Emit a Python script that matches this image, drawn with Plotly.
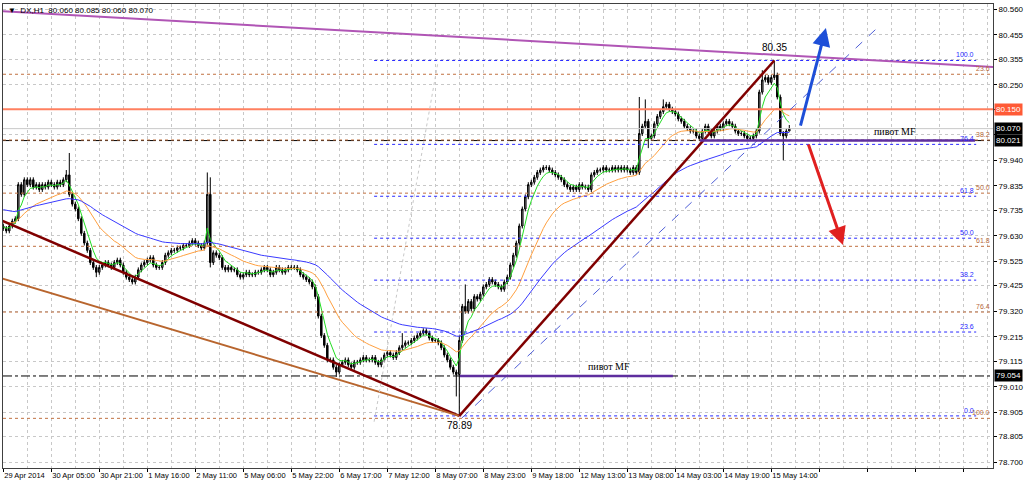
import plotly.graph_objects as go

# ---------------- data ----------------
close = [
    79.66, 79.65, 79.67, 79.69, 79.70, 79.84, 79.80, 79.86, 79.84, 79.86,
    79.83, 79.84, 79.82, 79.84, 79.83, 79.85, 79.84, 79.83, 79.85, 79.84,
    79.86, 79.88, 79.80, 79.76, 79.74, 79.70, 79.64, 79.60, 79.57, 79.52,
    79.50, 79.48, 79.50, 79.51, 79.52, 79.51, 79.50, 79.52, 79.53, 79.51,
    79.48, 79.46, 79.45, 79.44, 79.46, 79.49, 79.51, 79.52, 79.53, 79.54,
    79.51, 79.50, 79.50, 79.52, 79.55, 79.56, 79.57, 79.57, 79.58, 79.58,
    79.59, 79.59, 79.60, 79.61, 79.60, 79.59, 79.58, 79.60, 79.80, 79.52,
    79.56, 79.55, 79.54, 79.50, 79.49, 79.50, 79.49, 79.49, 79.47, 79.46,
    79.47, 79.48, 79.47, 79.47, 79.48, 79.48, 79.49, 79.50, 79.49, 79.47,
    79.48, 79.50, 79.49, 79.48, 79.49, 79.50, 79.50, 79.50, 79.49, 79.47,
    79.46, 79.45, 79.44, 79.42, 79.38, 79.30, 79.22, 79.18, 79.12, 79.12,
    79.09, 79.07, 79.10, 79.11, 79.12, 79.10, 79.09, 79.11, 79.11, 79.12,
    79.13, 79.12, 79.12, 79.13, 79.11, 79.10, 79.12, 79.14, 79.15, 79.14,
    79.13, 79.15, 79.17, 79.18, 79.19, 79.19, 79.20, 79.21, 79.22, 79.23,
    79.24, 79.23, 79.21, 79.20, 79.20, 79.19, 79.17, 79.14, 79.12, 79.09,
    79.07, 79.06, 79.20, 79.34, 79.32, 79.36, 79.33, 79.38, 79.37, 79.39,
    79.42, 79.43, 79.45, 79.44, 79.43, 79.42, 79.41, 79.44, 79.46, 79.51,
    79.55, 79.60, 79.67, 79.74, 79.79, 79.84, 79.85, 79.87, 79.89, 79.90,
    79.91, 79.91, 79.90, 79.89, 79.88, 79.87, 79.86, 79.84, 79.83, 79.82,
    79.83, 79.82, 79.84, 79.83, 79.83, 79.82, 79.88, 79.89, 79.90, 79.90,
    79.91, 79.90, 79.90, 79.91, 79.90, 79.91, 79.90, 79.91, 79.90, 79.89,
    79.91, 79.89, 80.05, 80.08, 80.10, 80.03, 80.04, 80.09, 80.12, 80.14,
    80.16, 80.17, 80.15, 80.14, 80.13, 80.11, 80.10, 80.08, 80.07, 80.06,
    80.06, 80.04, 80.03, 80.06, 80.08, 80.06, 80.04, 80.06, 80.08, 80.07,
    80.09, 80.10, 80.09, 80.08, 80.06, 80.05, 80.05, 80.04, 80.03, 80.03,
    80.04, 80.06, 80.22, 80.27, 80.28, 80.26, 80.28, 80.29, 80.20, 80.05,
    80.04, 80.06, 80.07,
]
first_open = 79.67
open_override = {152: 79.06}
high_marks = {21: 79.90, 22: 79.97, 68: 79.89, 69: 79.87, 133: 79.23, 152: 79.22,
              154: 79.43, 212: 80.20, 214: 80.19, 220: 80.19, 253: 80.31,
              257: 80.35, 262: 80.085}
low_marks = {31: 79.46, 43: 79.43, 69: 79.50, 111: 79.05, 151: 78.97, 152: 78.89,
             215: 79.99, 260: 79.94, 262: 80.06}
wick = 0.01

ema_periods = [5, 21, 55]
ema_seeds = [79.67, 79.69, 79.74]
ema_colors = ["#22DD22", "#FFA040", "#3A3AFF"]

x_labels = ["29 Apr 2014", "30 Apr 05:00", "30 Apr 21:00", "1 May 16:00", "2 May 11:00",
            "5 May 06:00", "5 May 22:00", "6 May 17:00", "7 May 12:00", "8 May 07:00",
            "8 May 23:00", "9 May 18:00", "12 May 13:00", "13 May 08:00", "14 May 03:00",
            "14 May 19:00", "15 May 14:00"]
bars_per_label = 16
y_labels = ["80.560", "80.455", "80.355", "80.250", "80.150", "80.045", "79.940", "79.835",
            "79.735", "79.630", "79.525", "79.425", "79.320", "79.215", "79.115", "79.010",
            "78.905", "78.805", "78.700"]
y_labels_hidden = ["80.150", "80.045"]  # covered by the price boxes

fibA_low, fibA_high = 78.89, 80.35
fibA_levels = [0.0, 23.6, 38.2, 50.0, 61.8, 76.4, 100.0]
fibA_x = (123.6, 324.3)
fibB_zero, fibB_hundred = 80.73, 78.88
fibB_levels = [23.6, 38.2, 50.0, 61.8, 76.4, 100.0]

trend_lines = [  # (x0, y0, x1, y1, color, width, dash)
    (-1.1, 80.553, 329.9, 80.323, "#B055B5", 2, "solid"),
    (-1.1, 79.695, 152.0, 78.89, "#800000", 2.5, "solid"),
    (-1.1, 79.457, 152.0, 78.89, "#B8652E", 2, "solid"),
    (152.0, 78.89, 257.0, 80.35, "#800000", 2.5, "solid"),
    (152.9, 78.882, 291.6, 80.487, "#5060D8", 1, "dash"),
    (123.6, 78.866, 144.9, 80.344, "#C8C8C8", 1, "dot"),
]
pivots = [(152.2, 223.2, 79.054, 609.0 / 3 - 1.1), (232.2, 323.9, 80.021, 895.0 / 3 - 1.1)]
pivot_text = "пивот MF"
coral_level = 80.150
bid_level = 80.070
dashdot_levels = [80.021, 79.054]
price_boxes = [(80.150, "#FF5A36"), (80.070, "#000000"), (80.021, "#000000"), (79.054, "#000000")]
arrows = [  # tail x, tail y, head x, head y, color
    (265.6, 80.076, 274.2, 80.483, "#1E4FD8"),
    (268.2, 80.011, 279.9, 79.592, "#E02020"),
]
peak = (257, 80.35, "80.35")
trough = (152, 78.89, "78.89")
header = "▼  DX,H1  80.060 80.085 80.060 80.070"

# ---------------- build ----------------
n = len(close)
xs = list(range(n))
opens = [first_open] + close[:-1]
for k, v in open_override.items():
    opens[k] = v
highs = [high_marks.get(i, max(opens[i], close[i]) + wick) for i in xs]
lows = [low_marks.get(i, min(opens[i], close[i]) - wick) for i in xs]

fig = go.Figure()
fig.add_trace(go.Candlestick(
    x=xs, open=opens, high=highs, low=lows, close=close,
    increasing=dict(line=dict(color="#000000", width=1), fillcolor="#8A8A8A"),
    decreasing=dict(line=dict(color="#000000", width=1), fillcolor="#000000"),
    whiskerwidth=0, hoverinfo="skip", showlegend=False))

for per, seed, col in zip(ema_periods, ema_seeds, ema_colors):
    a = 2.0 / (per + 1)
    vals, e = [], seed
    for c in close:
        e = e + a * (c - e)
        vals.append(e)
    fig.add_trace(go.Scatter(x=xs, y=vals, mode="lines", line=dict(color=col, width=1),
                             hoverinfo="skip", showlegend=False))

shapes = []
shapes.append(dict(type="line", xref="paper", x0=0, x1=1, yref="y", y0=bid_level, y1=bid_level,
                   line=dict(color="#C8C8C8", width=1)))
shapes.append(dict(type="line", xref="paper", x0=0, x1=1, yref="y", y0=coral_level, y1=coral_level,
                   line=dict(color="#FF8060", width=2)))
for lv in dashdot_levels:
    shapes.append(dict(type="line", xref="paper", x0=0, x1=1, yref="y", y0=lv, y1=lv,
                       line=dict(color="#000000", width=1, dash="dashdot")))
annotations = []
for lv in fibB_levels:
    p = fibB_zero - lv / 100.0 * (fibB_zero - fibB_hundred)
    shapes.append(dict(type="line", xref="paper", x0=0, x1=1, yref="y", y0=p, y1=p,
                       line=dict(color="#C07040", width=1, dash="dot")))
    annotations.append(dict(xref="paper", x=1, xshift=-1, yref="y", y=p, text=f"{lv:.1f}",
                            xanchor="right", yanchor="bottom", showarrow=False,
                            font=dict(family="Liberation Sans", size=7, color="#B86A3A")))
for lv in fibA_levels:
    p = fibA_low + lv / 100.0 * (fibA_high - fibA_low)
    shapes.append(dict(type="line", xref="x", x0=fibA_x[0], x1=fibA_x[1], yref="y", y0=p, y1=p,
                       line=dict(color="#2828FF", width=1, dash="dot")))
    annotations.append(dict(xref="x", x=fibA_x[1], yref="y", y=p, text=f"{lv:.1f}",
                            xanchor="right", yanchor="bottom", showarrow=False,
                            font=dict(family="Liberation Sans", size=7, color="#2828FF")))
for x0, y0, x1, y1, col, w, d in trend_lines:
    shapes.append(dict(type="line", xref="x", yref="y", x0=x0, y0=y0, x1=x1, y1=y1,
                       line=dict(color=col, width=w, dash=d)))
for x0, x1, lv, tx in pivots:
    shapes.append(dict(type="line", xref="x", yref="y", x0=x0, x1=x1, y0=lv, y1=lv,
                       line=dict(color="#5E2E9E", width=2.5)))
    annotations.append(dict(xref="x", x=tx, yref="y", y=lv, yshift=2, text=pivot_text,
                            xanchor="center", yanchor="bottom", showarrow=False,
                            font=dict(family="Liberation Serif", size=10, color="#000000")))
for tx, ty, hx, hy, col in arrows:
    annotations.append(dict(x=hx, y=hy, ax=tx, ay=ty, xref="x", yref="y", axref="x", ayref="y",
                            showarrow=True, arrowhead=2, arrowsize=1.2, arrowwidth=3,
                            arrowcolor=col, text=""))
annotations.append(dict(xref="x", x=peak[0], yref="y", y=peak[1], yshift=5, text=peak[2],
                        xanchor="center", yanchor="bottom", showarrow=False,
                        font=dict(family="Liberation Sans", size=10, color="#000000")))
annotations.append(dict(xref="x", x=trough[0], yref="y", y=trough[1], yshift=-2, text=trough[2],
                        xanchor="center", yanchor="top", showarrow=False,
                        font=dict(family="Liberation Sans", size=10, color="#000000")))
for lv, col in price_boxes:
    annotations.append(dict(xref="paper", x=1, xshift=1, yref="y", y=lv, text=f"{lv:.3f}",
                            xanchor="left", yanchor="middle", showarrow=False, bgcolor=col,
                            borderpad=1, font=dict(family="Liberation Sans", size=8, color="#FFFFFF")))
annotations.append(dict(xref="paper", yref="paper", x=0, y=1, xshift=3, yshift=0, text=header,
                        xanchor="left", yanchor="top", showarrow=False,
                        font=dict(family="Liberation Sans", size=8, color="#000000")))

x_tickvals = list(range(0, 330, bars_per_label))
x_ticktext = [x_labels[k] if k < len(x_labels) else "" for k in range(len(x_tickvals))]
y_tickvals = [float(t) for t in y_labels]
y_ticktext = ["" if t in y_labels_hidden else t for t in y_labels]

fig.update_layout(
    width=1024, height=482, margin=dict(l=3, r=31, t=4, b=14, autoexpand=False),
    paper_bgcolor="#FFFFFF", plot_bgcolor="#FFFFFF", showlegend=False,
    shapes=shapes, annotations=annotations,
    font=dict(family="Liberation Sans", size=8, color="#000000"),
    xaxis=dict(range=[-0.1, 329.9], rangeslider=dict(visible=False), tickvals=x_tickvals,
               ticktext=x_ticktext, ticks="outside", ticklen=3, tickcolor="#000000",
               ticklabelposition="outside right", tickangle=0, automargin=False,
               showgrid=True, gridcolor="#C8C8C8",
               griddash="dot", gridwidth=1, zeroline=False, showline=True, linecolor="#404040",
               linewidth=1, mirror=True, tickfont=dict(size=7.5),
               minor=dict(dtick=8, tick0=0, showgrid=True, gridcolor="#C8C8C8", griddash="dot",
                          ticks="")),
    yaxis=dict(range=[78.676, 80.582], side="right", tickvals=y_tickvals, ticktext=y_ticktext,
               ticks="outside", ticklen=3, tickcolor="#000000", showgrid=True, automargin=False,
               gridcolor="#C8C8C8", griddash="dot", zeroline=False, showline=True,
               linecolor="#404040", linewidth=1, mirror=True, tickfont=dict(size=8)),
)
fig.write_html("out.html", config={"displayModeBar": False},
               post_script="document.body.style.margin='0';document.body.style.overflow='hidden';")
